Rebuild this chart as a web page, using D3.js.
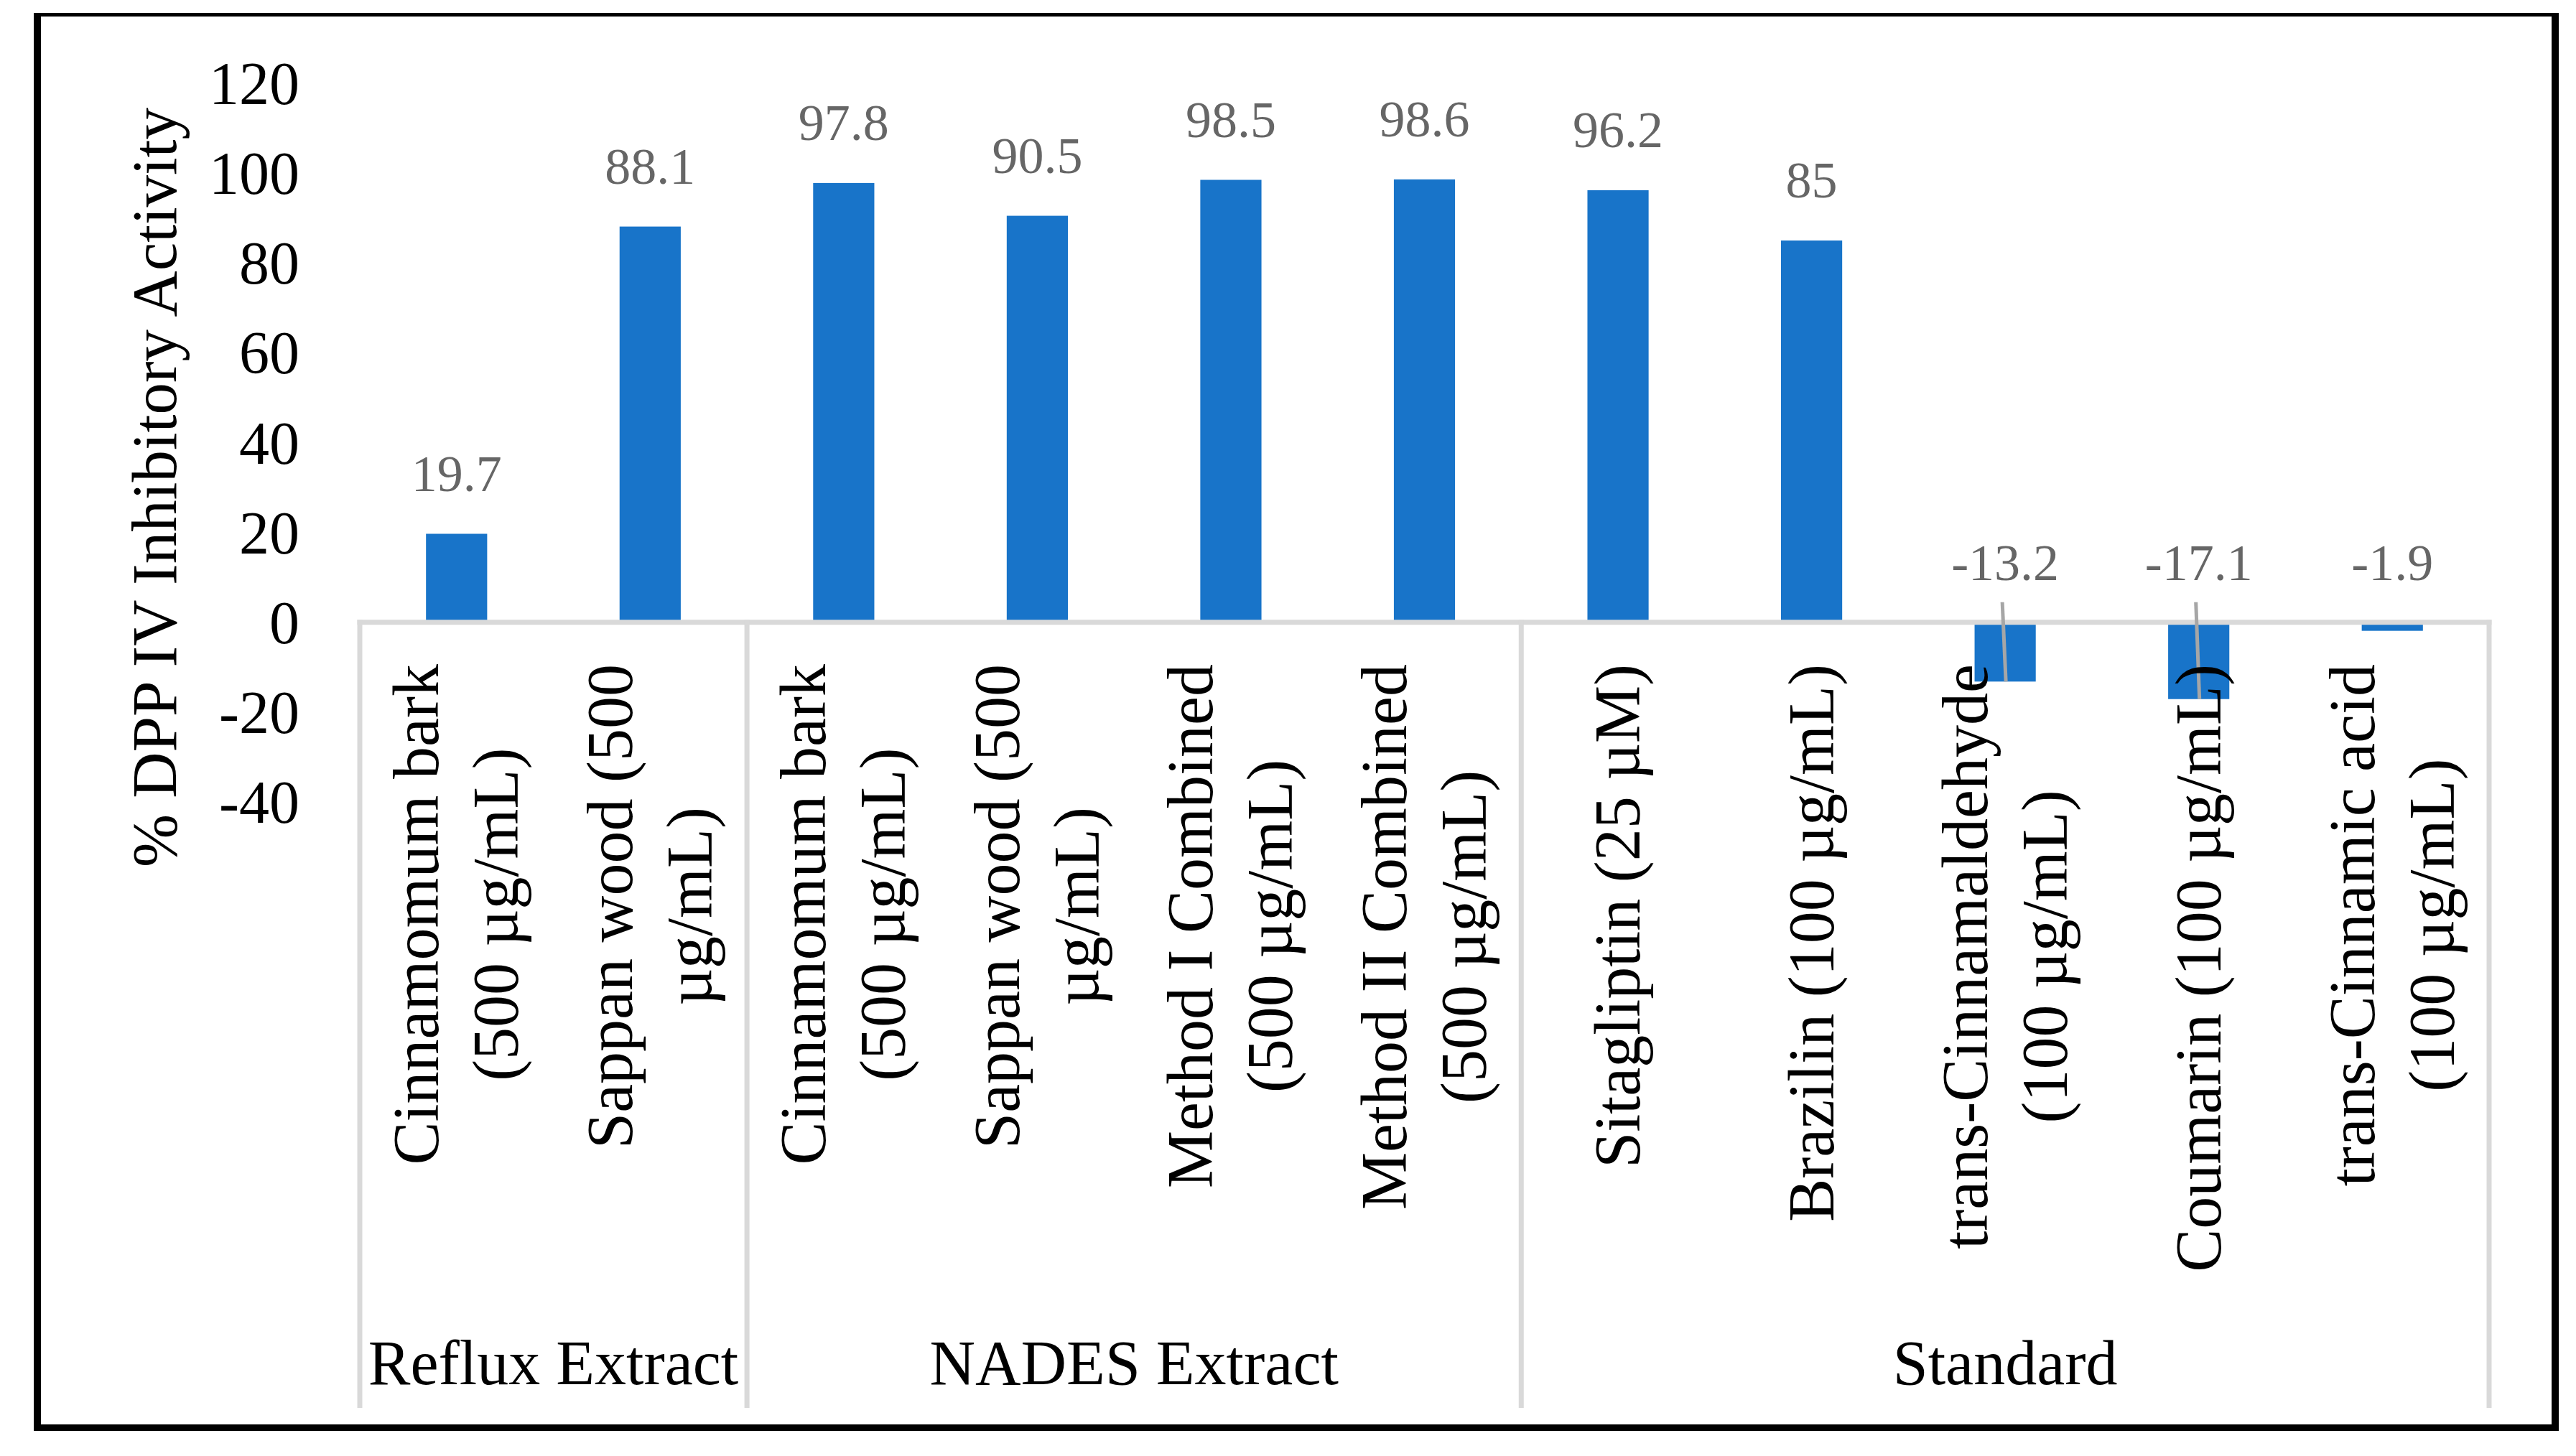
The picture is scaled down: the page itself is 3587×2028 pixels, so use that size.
<!DOCTYPE html>
<html><head><meta charset="utf-8">
<script src="https://cdn.jsdelivr.net/npm/d3@7/dist/d3.min.js"></script>
<style>html,body{margin:0;padding:0;background:#fff}</style>
</head><body><svg id="c"></svg>
<script>
// ---- data ----
const categories = [
  ["Cinnamomum bark", "(500 µg/mL)"],
  ["Sappan wood (500", "µg/mL)"],
  ["Cinnamomum bark", "(500 µg/mL)"],
  ["Sappan wood (500", "µg/mL)"],
  ["Method I Combined", "(500 µg/mL)"],
  ["Method II Combined", "(500 µg/mL)"],
  ["Sitagliptin (25 µM)"],
  ["Brazilin (100 µg/mL)"],
  ["trans-Cinnamaldehyde", "(100 µg/mL)"],
  ["Coumarin (100 µg/mL)"],
  ["trans-Cinnamic acid", "(100 µg/mL)"]
];
const values = [19.7, 88.1, 97.8, 90.5, 98.5, 98.6, 96.2, 85, -13.2, -17.1, -1.9];
const valueLabels = ["19.7", "88.1", "97.8", "90.5", "98.5", "98.6", "96.2", "85", "-13.2", "-17.1", "-1.9"];
const groupNames = ["Reflux Extract", "NADES Extract", "Standard"];
const groupSizes = [2, 4, 5];
const yTicks = [-40, -20, 0, 20, 40, 60, 80, 100, 120];
const yTitle = "% DPP IV Inhibitory Activity";

// ---- layout ----
const W = 3587, H = 2028;
const FONT = "'Palatino Linotype','Book Antiqua',Palatino,'Liberation Serif','Times New Roman',serif";
const svg = d3.select("#c").attr("width", W).attr("height", H)
  .attr("viewBox", `0 0 ${W} ${H}`);
svg.append("rect").attr("width", W).attr("height", H).attr("fill", "#fff");

const plotL = 501, plotR = 3466, sepBottom = 1961;
const x = d3.scaleBand().domain(d3.range(values.length)).range([plotL, plotR]).padding(0);
const y = d3.scaleLinear().domain([-40, 120]).range([1117, 116]);
const barW = x.bandwidth() * 0.316;
const y0 = y(0);

// bars
svg.append("g").selectAll("rect").data(values).join("rect")
  .attr("x", (d, i) => x(i) + x.bandwidth() / 2 - barW / 2)
  .attr("width", barW)
  .attr("y", d => Math.min(y(d), y0))
  .attr("height", d => Math.abs(y(d) - y0))
  .attr("fill", "#1874c9");

// category axis line and group separators
svg.append("line").attr("x1", plotL - 3.5).attr("x2", plotR + 3.5).attr("y1", y0).attr("y2", y0)
  .attr("stroke", "#d9d9d9").attr("stroke-width", 7);
const groupStarts = [];
let acc = 0;
groupSizes.forEach(s => { groupStarts.push(acc); acc += s; });
const sepIdx = [0, ...groupStarts.slice(1), values.length];
svg.append("g").selectAll("line").data(sepIdx).join("line")
  .attr("x1", i => i < values.length ? x(i) : plotR)
  .attr("x2", i => i < values.length ? x(i) : plotR)
  .attr("y1", y0 - 3.5).attr("y2", sepBottom)
  .attr("stroke", "#d9d9d9").attr("stroke-width", 7);

// outer frame (top edge thinner than the others, as in the original)
const frame = svg.append("g").attr("stroke", "#000").attr("fill", "none");
frame.append("line").attr("x1", 47).attr("x2", 3563).attr("y1", 20.5).attr("y2", 20.5).attr("stroke-width", 5);
frame.append("line").attr("x1", 47).attr("x2", 3563).attr("y1", 1988.5).attr("y2", 1988.5).attr("stroke-width", 9);
frame.append("line").attr("x1", 52).attr("x2", 52).attr("y1", 18).attr("y2", 1993).attr("stroke-width", 10);
frame.append("line").attr("x1", 3558).attr("x2", 3558).attr("y1", 18).attr("y2", 1993).attr("stroke-width", 10);

// y axis tick labels
const yAxis = d3.axisLeft(y).tickValues(yTicks).tickSize(0).tickPadding(0).tickFormat(d3.format("d"));
const ya = svg.append("g").attr("transform", "translate(417,0)").call(yAxis);
ya.select(".domain").remove();
ya.selectAll("text").attr("font-family", FONT).attr("font-size", 84).attr("fill", "#000")
  .attr("dy", "0.34em").text(d => d < 0 ? "-" + Math.abs(d) : d);

// y title
svg.append("text").attr("transform", "translate(245,679) rotate(-90)")
  .attr("text-anchor", "middle").attr("font-family", FONT).attr("font-size", 89).attr("fill", "#000")
  .text(yTitle);

// data labels
const lblFont = 72;
const labelY = (d) => d >= 0 ? y(d) - 60 : y0 - 59;
svg.append("g").selectAll("text").data(values).join("text")
  .attr("x", (d, i) => x(i) + x.bandwidth() / 2)
  .attr("y", d => labelY(d))
  .attr("text-anchor", "middle").attr("font-family", FONT).attr("font-size", lblFont)
  .attr("fill", "#666666")
  .text((d, i) => valueLabels[i]);
// leader lines for negative bars whose label sits away from the bar end
svg.append("g").selectAll("line").data(values.map((v, i) => ({v, i})).filter(o => o.v < -5)).join("line")
  .attr("x1", o => x(o.i) + x.bandwidth() / 2 - 4)
  .attr("x2", o => x(o.i) + x.bandwidth() / 2 + 1)
  .attr("y1", y0 - 28).attr("y2", o => y(o.v))
  .attr("stroke", "#a6a6a6").attr("stroke-width", 5);

// category labels (rotated, multi-line centered)
const catFont = 90, lineH = 111, labelTop = 925, capHalf = 30;
categories.forEach((lines, i) => {
  const cx = x(i) + x.bandwidth() / 2;
  const g = svg.append("g").attr("transform", `translate(${cx},${labelTop}) rotate(-90)`);
  const texts = lines.map((ln, j) => g.append("text")
    .attr("font-family", FONT).attr("font-size", catFont).attr("fill", "#000")
    .attr("y", (j - (lines.length - 1) / 2) * lineH + capHalf)
    .text(ln));
  const widths = texts.map(t => t.node().getComputedTextLength());
  const maxW = d3.max(widths);
  texts.forEach(t => t.attr("text-anchor", "middle").attr("x", -maxW / 2));
});

// group labels
svg.append("g").selectAll("text").data(groupNames).join("text")
  .attr("x", (d, k) => {
    const a = groupStarts[k], b = a + groupSizes[k];
    const xa = x(a), xb = b < values.length ? x(b) : plotR;
    return (xa + xb) / 2;
  })
  .attr("y", 1928).attr("text-anchor", "middle")
  .attr("font-family", FONT).attr("font-size", 88).attr("fill", "#000")
  .text(d => d);
</script>
</body></html>
